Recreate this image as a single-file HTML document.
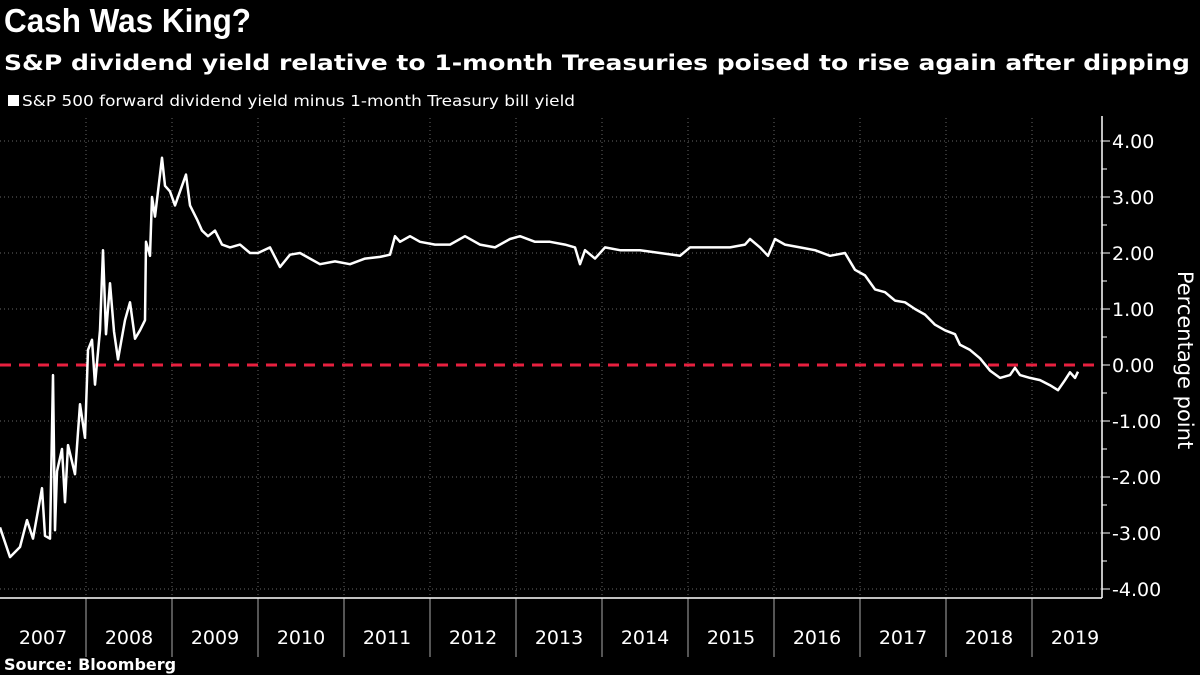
<!DOCTYPE html>
<html><head><meta charset="utf-8"><style>
html,body{margin:0;padding:0;background:#000;}
svg{display:block;font-family:"Liberation Sans","DejaVu Sans",sans-serif;}
</style></head><body>
<svg id="chart" width="1200" height="675" viewBox="0 0 1200 675" xmlns="http://www.w3.org/2000/svg">
<rect width="1200" height="675" fill="#000"/>
<text x="4" y="32" fill="#fff" font-size="33" font-weight="bold" font-family="Liberation Sans, sans-serif" textLength="247" lengthAdjust="spacingAndGlyphs">Cash Was King?</text>
<text x="4" y="70" fill="#fff" font-size="21" font-weight="bold" font-family="DejaVu Sans, sans-serif" textLength="1186" lengthAdjust="spacingAndGlyphs">S&amp;P dividend yield relative to 1-month Treasuries poised to rise again after dipping</text>
<rect x="8" y="95" width="11" height="11" fill="#fff"/>
<text x="22" y="106" fill="#fff" font-size="15" font-family="DejaVu Sans, sans-serif" textLength="553" lengthAdjust="spacingAndGlyphs">S&amp;P 500 forward dividend yield minus 1-month Treasury bill yield</text>
<g id="grid"></g>
<g id="axes"></g>
<g id="series"></g>
<text transform="translate(1178,360) rotate(90)" text-anchor="middle" fill="#fff" font-size="21" font-family="DejaVu Sans, sans-serif">Percentage point</text>
<text x="4" y="670" fill="#fff" font-size="16" font-weight="bold" font-family="DejaVu Sans, sans-serif">Source: Bloomberg</text>
</svg>
<script>
const years = [2007,2008,2009,2010,2011,2012,2013,2014,2015,2016,2017,2018,2019];
const yTicks = [4,3,2,1,0,-1,-2,-3,-4];
const yTickLabels = ["4.00","3.00","2.00","1.00","0.00","-1.00","-2.00","-3.00","-4.00"];
const dates = [2007.00,2007.116,2007.233,2007.314,2007.384,2007.488,2007.523,2007.581,2007.616,2007.640,2007.663,2007.721,2007.756,2007.791,2007.872,2007.930,2007.988,2008.023,2008.070,2008.105,2008.163,2008.198,2008.233,2008.279,2008.326,2008.372,2008.453,2008.512,2008.570,2008.628,2008.686,2008.698,2008.744,2008.767,2008.802,2008.837,2008.884,2008.919,2008.977,2009.035,2009.093,2009.163,2009.209,2009.291,2009.349,2009.419,2009.500,2009.581,2009.674,2009.791,2009.907,2010.0,2010.140,2010.256,2010.372,2010.488,2010.605,2010.721,2010.895,2011.070,2011.244,2011.419,2011.535,2011.593,2011.651,2011.767,2011.884,2012.058,2012.233,2012.407,2012.581,2012.756,2012.930,2013.047,2013.221,2013.395,2013.570,2013.686,2013.744,2013.802,2013.919,2014.035,2014.209,2014.442,2014.674,2014.907,2015.023,2015.256,2015.488,2015.663,2015.721,2015.837,2015.930,2016.012,2016.128,2016.302,2016.477,2016.651,2016.826,2016.942,2017.058,2017.174,2017.291,2017.407,2017.523,2017.640,2017.756,2017.872,2017.988,2018.105,2018.163,2018.279,2018.395,2018.512,2018.628,2018.744,2018.802,2018.860,2018.977,2019.093,2019.209,2019.302,2019.384,2019.442,2019.500,2019.535];
const values = [-2.9,-3.43,-3.25,-2.77,-3.1,-2.2,-3.05,-3.1,-0.18,-2.95,-1.9,-1.5,-2.45,-1.43,-1.95,-0.7,-1.3,0.27,0.45,-0.35,0.62,2.05,0.55,1.46,0.6,0.1,0.8,1.12,0.47,0.62,0.8,2.2,1.95,3.0,2.65,3.1,3.7,3.2,3.1,2.85,3.1,3.4,2.85,2.6,2.4,2.3,2.4,2.15,2.1,2.15,2.0,2.0,2.1,1.75,1.97,2.0,1.9,1.8,1.85,1.8,1.9,1.93,1.97,2.3,2.2,2.3,2.2,2.15,2.15,2.3,2.15,2.1,2.25,2.3,2.2,2.2,2.15,2.1,1.8,2.05,1.9,2.1,2.05,2.05,2.0,1.95,2.1,2.1,2.1,2.15,2.25,2.1,1.95,2.25,2.15,2.1,2.05,1.95,2.0,1.7,1.6,1.35,1.3,1.15,1.12,1.0,0.9,0.72,0.62,0.55,0.36,0.27,0.12,-0.1,-0.23,-0.18,-0.05,-0.18,-0.23,-0.27,-0.36,-0.45,-0.27,-0.13,-0.23,-0.12];

const NS = "http://www.w3.org/2000/svg";
const X0 = 0, PXY = 86, Y0 = 365, PXV = 56, AXR = 1102, TOP = 118, BOT = 598;
function xs(t){ return X0 + (t - 2007) * PXY; }
function ys(v){ return Y0 - v * PXV; }
function mk(tag, attrs, parent){ const e = document.createElementNS(NS, tag); for (const k in attrs) e.setAttribute(k, attrs[k]); parent.appendChild(e); return e; }
const grid = document.getElementById('grid'), axes = document.getElementById('axes'), series = document.getElementById('series');

yTicks.forEach((v, i) => {
  if (v !== 0) {
    const g = mk('line', {x1:0, x2:AXR, y1:ys(v), y2:ys(v), stroke:'#666', 'stroke-width':1, 'stroke-dasharray':'1,3'}, grid);
    
    
  }
  const tk = mk('line', {x1:AXR, x2:AXR+8, y1:ys(v), y2:ys(v), stroke:'#fff', 'stroke-width':1}, axes);
  
  
  if (i < yTicks.length - 1) {
    const mt = mk('line', {x1:AXR, x2:AXR+5, y1:ys(v-0.5), y2:ys(v-0.5), stroke:'#fff', 'stroke-width':1}, axes);
    
    
  }
  const t = mk('text', {x:AXR+10, y:ys(v)+7, fill:'#fff', 'font-size':19, 'font-family':'DejaVu Sans, sans-serif'}, axes);
  t.textContent = yTickLabels[i];
  
  
});

years.forEach((yr, i) => {
  if (i > 0) {
    const g = mk('line', {x1:xs(yr), x2:xs(yr), y1:TOP, y2:BOT, stroke:'#666', 'stroke-width':1, 'stroke-dasharray':'1,3'}, grid);
    
    
    const s = mk('line', {x1:xs(yr), x2:xs(yr), y1:BOT, y2:657, stroke:'#aaa', 'stroke-width':1}, axes);
    
    
  }
  const t = mk('text', {x:xs(yr)+43, y:644, fill:'#fff', 'font-size':19, 'text-anchor':'middle', 'font-family':'DejaVu Sans, sans-serif'}, axes);
  t.textContent = String(yr);
  
  
});

const ya = mk('line', {x1:AXR, x2:AXR, y1:116, y2:BOT, stroke:'#fff', 'stroke-width':1.5}, axes);


const xa = mk('line', {x1:0, x2:AXR, y1:BOT, y2:BOT, stroke:'#fff', 'stroke-width':1.5}, axes);



const zl = mk('line', {x1:0, x2:AXR, y1:ys(0), y2:ys(0), stroke:'#e8203f', 'stroke-width':3, 'stroke-dasharray':'11,8'}, series);



const d = dates.map((t, i) => (i ? 'L' : 'M') + xs(t).toFixed(1) + ',' + ys(values[i]).toFixed(1)).join(' ');
const p = mk('path', {d:d, fill:'none', stroke:'#fff', 'stroke-width':2.5, 'stroke-linejoin':'round'}, series);


</script>
</body></html>
